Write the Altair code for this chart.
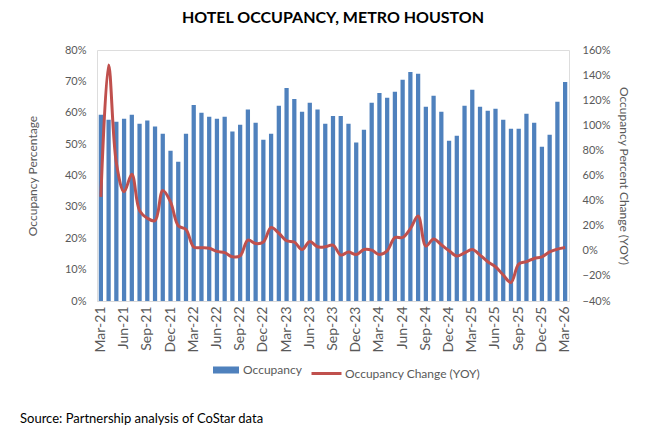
import altair as alt
import pandas as pd

# Category labels: monthly, Mar-21 .. Mar-26
months = [d.strftime("%b-%y") for d in pd.date_range("2021-03-01", "2026-03-01", freq="MS")]
tick_labels = months[::3]

# Occupancy (%)
occupancy = [
    59.4, 57.8, 57.1, 58.1, 59.4, 56.5, 57.5, 55.6, 53.3, 47.9,            # Mar-21..Dec-21
    44.4, 53.3, 62.5, 60.0, 58.7, 58.1, 58.7, 54.0, 56.2, 61.0, 56.8, 51.4,  # 2022
    53.3, 62.2, 67.9, 64.4, 60.3, 63.2, 61.0, 56.5, 59.0, 59.0, 56.5, 50.5,  # 2023
    54.6, 63.2, 66.3, 64.8, 66.7, 70.5, 73.0, 72.4, 61.9, 65.4, 60.3, 51.1,  # 2024
    52.7, 62.2, 67.3, 61.9, 60.6, 61.3, 57.8, 54.9, 54.9, 59.7, 56.8, 49.2,  # 2025
    53.0, 63.5, 69.8,                                                        # Jan-26..Mar-26
]

# Occupancy change year over year (%)
yoy_change = [
    43, 148, 70, 47, 61, 32, 26, 24, 48, 39,                                # Mar-21..Dec-21
    20, 17, 3, 2.5, 2, -0.5, -1.5, -4.8, -4, 8.5, 5.8, 7,                   # 2022
    18.5, 14, 8, 7, 1, 7.4, 3.2, 3.2, 4.5, -3.4, -1, -3,                    # 2023
    1, 0.5, -3, 0, 10.6, 10.6, 17.7, 27.8, 3.7, 9.5, 4.8, 0,                # 2024
    -4.2, -1.6, 1, -3.4, -8.7, -12.7, -19.3, -25.2, -10.6, -8.7, -6.1, -4.8,  # 2025
    -0.8, 1.3, 2.6,                                                         # Jan-26..Mar-26
]

left_ticks = [0, 0.1, 0.2, 0.3, 0.4, 0.5, 0.6, 0.7, 0.8]
right_ticks = [-0.4, -0.2, 0, 0.2, 0.4, 0.6, 0.8, 1.0, 1.2, 1.4, 1.6]

df = pd.DataFrame({
    "month": months,
    "occ": [v / 100 for v in occupancy],
    "chg": [v / 100 for v in yoy_change],
    "s1": "Occupancy",
    "s2": "Occupancy Change (YOY)",
})

FONT = "Lato"
GREY = "#595959"
BLUE = "#4F81BD"
RED = "#C0504D"

x_enc = alt.X(
    "month:O",
    sort=months,
    scale=alt.Scale(paddingInner=0.45, paddingOuter=0.225),
    axis=alt.Axis(
        values=tick_labels, labelAngle=-90, title=None, ticks=False,
        domainColor="#D9D9D9", labelColor=GREY, labelFontSize=14,
        labelPadding=5, labelFont=FONT,
    ),
)

bars = alt.Chart(df).mark_bar(color=BLUE).encode(
    x=x_enc,
    y=alt.Y(
        "occ:Q",
        scale=alt.Scale(domain=[0, 0.8], nice=False),
        axis=alt.Axis(
            values=left_ticks, format=".0%", title="Occupancy Percentage",
            grid=False, domain=False, ticks=False, labelPadding=11,
            labelColor=GREY, labelFont=FONT, labelFontSize=11,
            titleColor=GREY, titleFont=FONT, titleFontSize=12,
            titleFontWeight="normal", titlePadding=25,
        ),
    ),
    color=alt.Color(
        "s1:N",
        scale=alt.Scale(domain=["Occupancy"], range=[BLUE]),
        legend=alt.Legend(
            orient="none", legendX=116, legendY=307, title=None,
            symbolType="M-1,-0.27H1V0.27H-1Z", symbolSize=676,
            symbolStrokeWidth=0, labelOffset=4,
            labelFont=FONT, labelFontSize=12, labelColor=GREY,
        ),
    ),
)

line = alt.Chart(df).mark_line(interpolate="catmull-rom", strokeWidth=3).encode(
    x=x_enc,
    y=alt.Y(
        "chg:Q",
        scale=alt.Scale(domain=[-0.4, 1.6], nice=False),
        axis=alt.Axis(
            orient="right", values=right_ticks, format=".0%",
            title="Occupancy  Percent Change (YOY)",
            grid=False, domain=False, ticks=False, labelPadding=13,
            labelColor=GREY, labelFont=FONT, labelFontSize=11,
            titleColor=GREY, titleFont=FONT, titleFontSize=12,
            titleFontWeight="normal", titlePadding=7,
        ),
    ),
    color=alt.Color(
        "s2:N",
        scale=alt.Scale(domain=["Occupancy Change (YOY)"], range=[RED]),
        legend=alt.Legend(
            orient="none", legendX=213, legendY=307, title=None,
            symbolType="stroke", symbolSize=900, symbolStrokeWidth=3,
            labelOffset=2,
            labelFont=FONT, labelFontSize=12, labelColor=GREY,
        ),
    ),
)

source = alt.Chart(pd.DataFrame({"t": ["Source: Partnership analysis of CoStar data"]})).mark_text(
    align="left", baseline="middle", font=FONT, fontSize=13, color="black"
).encode(text="t:N", x=alt.value(-77), y=alt.value(369))

chart = alt.layer(bars, line, source).resolve_scale(
    y="independent", color="independent"
).properties(
    width=472,
    height=251,
    autosize=alt.AutoSizeParams(type="none"),
    padding={"left": 89, "top": 42, "right": 90, "bottom": 130},
    title=alt.TitleParams(
        "HOTEL OCCUPANCY, METRO HOUSTON", font=FONT, fontSize=16,
        fontWeight="bold", color="black", anchor="middle", offset=18,
    ),
).configure_view(stroke=None).configure(background="white")

chart.save("out.html", embed_options={"renderer": "svg", "actions": False})
